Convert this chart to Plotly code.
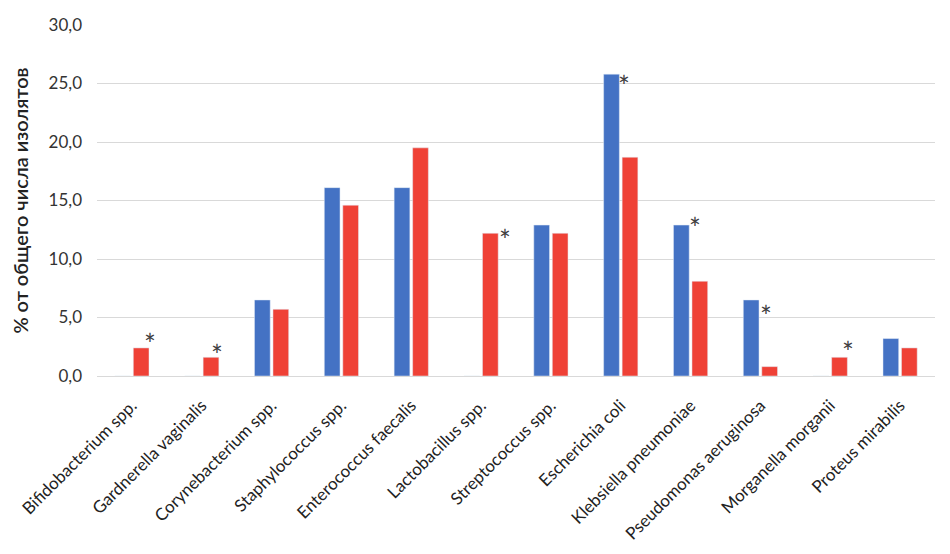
import plotly.graph_objects as go

categories = [
    "Bifidobacterium spp.", "Gardnerella vaginalis", "Corynebacterium spp.",
    "Staphylococcus spp.", "Enterococcus faecalis", "Lactobacillus spp.",
    "Streptococcus spp.", "Escherichia coli", "Klebsiella pneumoniae",
    "Pseudomonas aeruginosa", "Morganella morganii", "Proteus mirabilis",
]
blue_values = [0, 0, 6.5, 16.1, 16.1, 0, 12.9, 25.8, 12.9, 6.5, 0, 3.2]
red_values = [2.4, 1.6, 5.7, 14.6, 19.5, 12.2, 12.2, 18.7, 8.1, 0.8, 1.6, 2.4]
y_ticks = [0, 5, 10, 15, 20, 25, 30]

# asterisk markers: (category, series, xshift px, yshift px)
stars = [
    ("Bifidobacterium spp.", "red", 18, 4),
    ("Gardnerella vaginalis", "red", 15, 2),
    ("Lactobacillus spp.", "red", 24, -7),
    ("Escherichia coli", "blue", 3, -12),
    ("Klebsiella pneumoniae", "blue", 4, -3),
    ("Pseudomonas aeruginosa", "blue", 6, -16),
    ("Morganella morganii", "red", 18, 5),
]

BLUE = "#4472C4"
RED = "#EF4136"
FONT = "Lato"

fig = go.Figure()
fig.add_trace(go.Bar(x=categories, y=blue_values, marker_color=BLUE, name="blue"))
fig.add_trace(go.Bar(x=categories, y=red_values, marker_color=RED, name="red"))

series = {"blue": blue_values, "red": red_values}
for cat, s, dx, dy in stars:
    v = series[s][categories.index(cat)]
    fig.add_annotation(x=cat, y=v, text="*", showarrow=False, xref="x", yref="y",
                       xshift=dx, yshift=dy, yanchor="middle", xanchor="center",
                       font=dict(family=FONT, size=28, color="#404040"))

# page body has an 8px margin; figure is sized to fill the 950x554 window
fig.update_layout(
    width=942, height=546,
    margin=dict(l=89, r=15, t=17, b=178),
    paper_bgcolor="white", plot_bgcolor="white",
    showlegend=False,
    barmode="group", bargap=0.47, bargroupgap=0.15,
    separators=", ",
    font=dict(family=FONT, color="#333333"),
)
fig.update_yaxes(
    automargin=False,
    range=[0, 30], tickvals=y_ticks, tickformat=".1f",
    showgrid=True, gridcolor="#D9D9D9", gridwidth=1, zeroline=False,
    showline=False, tickfont=dict(size=17, color="#333333"),
    ticklabelstandoff=14,
    title=dict(text="% от общего числа изолятов", standoff=17,
               font=dict(size=20, color="#222222", weight=600)),
)
fig.update_xaxes(
    automargin=False,
    tickangle=-45, showline=True, linecolor="#D9D9D9",
    ticks="outside", ticklen=12, tickcolor="rgba(0,0,0,0)",
    tickfont=dict(size=17, color="#222222"),
)

fig.write_html("out.html")
